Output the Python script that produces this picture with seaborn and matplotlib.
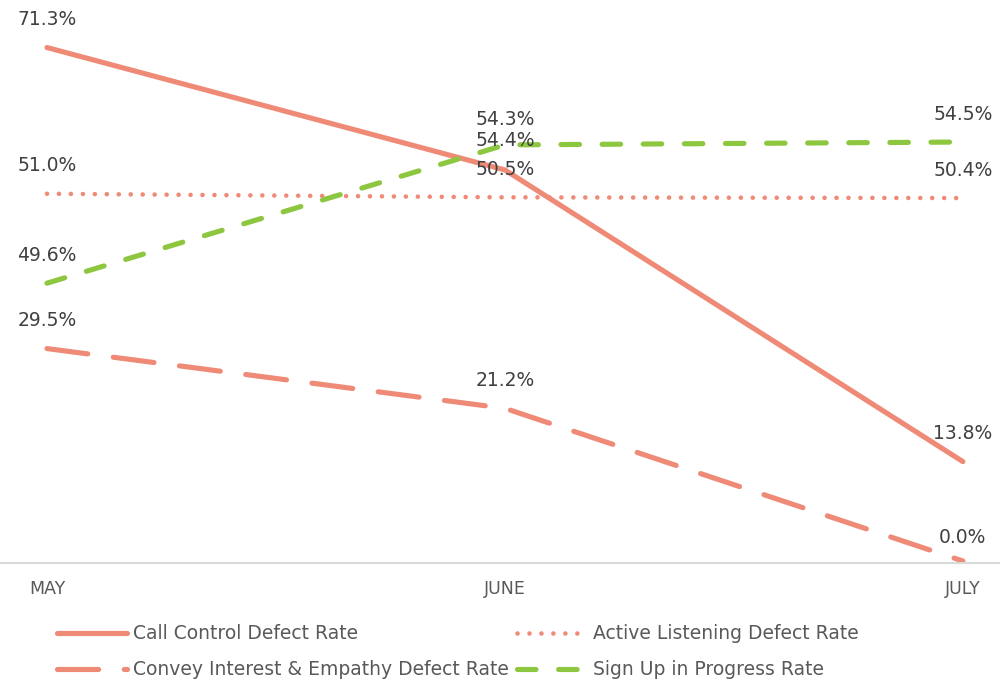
import matplotlib
matplotlib.use("Agg")
import matplotlib.pyplot as plt
import seaborn as sns
import pandas as pd
from matplotlib.font_manager import FontProperties

months = ["MAY", "JUNE", "JULY"]
call_control = [71.3, 54.3, 13.8]
active_listening = [51.0, 50.5, 50.4]
convey_interest = [29.5, 21.2, 0.0]
sign_up = [49.6, 54.4, 54.5]

series_names = ["Call Control Defect Rate", "Active Listening Defect Rate",
                "Convey Interest & Empathy Defect Rate", "Sign Up in Progress Rate"]

SALMON = "#EF8A76"
GREEN = "#8DC63F"
LABEL_C = "#404040"
TICK_C = "#595959"

sns.set_theme(style="white")
plt.rcParams["font.family"] = ["DejaVu Sans"]

fig = plt.figure(figsize=(10, 6.81), dpi=100)
ax = fig.add_axes([0, 0.173, 1, 0.827])
ax2 = ax.twinx()

x = list(range(len(months)))
df = pd.DataFrame({"x": x, "cc": call_control, "al": active_listening,
                   "ci": convey_interest, "su": sign_up})

sns.lineplot(data=df, x="x", y="cc", ax=ax, color=SALMON, lw=3.7)
l_cc = ax.lines[-1]
sns.lineplot(data=df, x="x", y="al", ax=ax, color=SALMON, lw=3.3)
l_al = ax.lines[-1]
l_al.set_linestyle((0, (0.01, 2.6)))
l_al.set_dash_capstyle("round")
sns.lineplot(data=df, x="x", y="ci", ax=ax, color=SALMON, lw=3.7)
l_ci = ax.lines[-1]
l_ci.set_linestyle((0, (8, 5)))
l_ci.set_dash_capstyle("round")
sns.lineplot(data=df, x="x", y="su", ax=ax2, color=GREEN, lw=3.7)
l_su = ax2.lines[-1]
l_su.set_linestyle((0, (3.6, 4.4)))
l_su.set_dash_capstyle("round")
for l in (l_cc, l_al, l_ci, l_su):
    l.set_solid_capstyle("round")

ax.set_xlim(-0.1026, 2.081)
ax.set_ylim(-0.3, 77.9)
ax2.set_ylim(39.88, 59.43)

# data labels
label_offsets = {
    "cc": [20, 36, 20],
    "al": [20, 20, 20],
    "ci": [20, 20, 17],
    "su": [20, 3, 20],
}
for key, vals, axis in (("cc", call_control, ax), ("al", active_listening, ax),
                        ("ci", convey_interest, ax), ("su", sign_up, ax2)):
    for i, v in enumerate(vals):
        axis.annotate(f"{v:.1f}%", (x[i], v), xytext=(0, label_offsets[key][i]),
                      textcoords="offset points", ha="center", va="center",
                      fontsize=13.5, color=LABEL_C, annotation_clip=False)

ax.set_xticks(x)
ax.set_xticklabels(months)
for t in ax.get_xticklabels():
    t.set_fontsize(12.5)
    t.set_color(TICK_C)
ax.tick_params(axis="x", length=0, pad=12)
ax.set_yticks([])
ax2.set_yticks([])
ax.set_xlabel("")
ax.set_ylabel("")
ax2.set_ylabel("")
for a in (ax, ax2):
    for s in ("top", "left", "right", "bottom"):
        a.spines[s].set_visible(False)
ax.spines["bottom"].set_visible(True)
ax.spines["bottom"].set_color("#D9D9D9")
ax.spines["bottom"].set_linewidth(1.5)

# order so that rows read: Call Control | Active Listening ; Convey | Sign Up
handles = [l_cc, l_ci, l_al, l_su]
labels = [series_names[0], series_names[2], series_names[1], series_names[3]]
leg = fig.legend(handles, labels, loc="upper left", bbox_to_anchor=(0.04, 0.108),
                 ncol=2, frameon=False, handlelength=3.73, handletextpad=0.32,
                 columnspacing=0.43, labelspacing=0.9,
                 prop=FontProperties(size=13.5))
for t in leg.get_texts():
    t.set_color(TICK_C)

fig.savefig("out.png", dpi=100)
